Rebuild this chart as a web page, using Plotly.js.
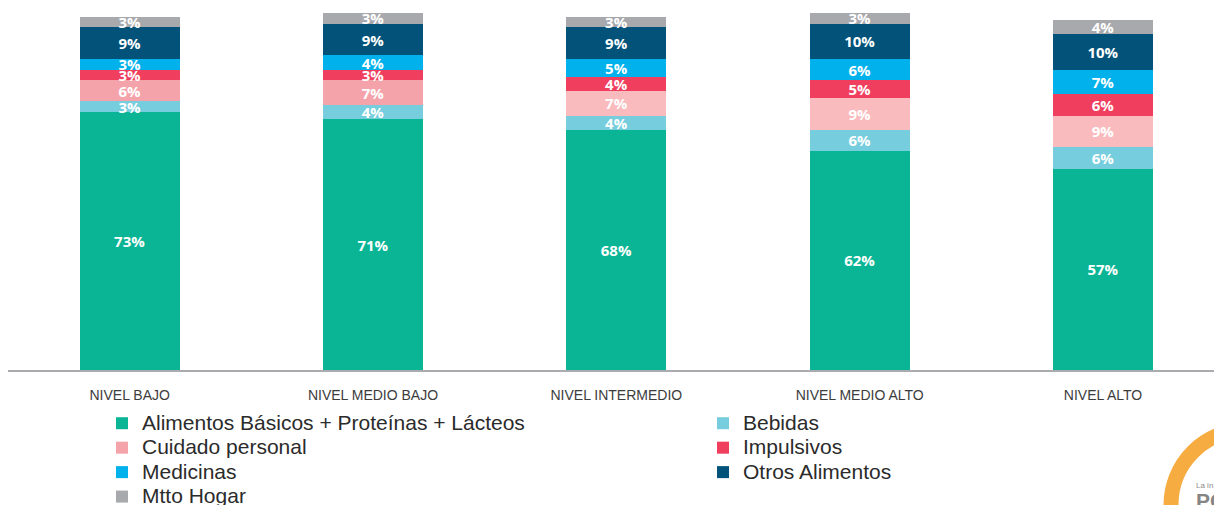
<!DOCTYPE html>
<html>
<head>
<meta charset="utf-8">
<script src="https://cdn.plot.ly/plotly-3.0.1.min.js"></script>
<style>
  html, body { margin: 0; padding: 0; background: #fff; }
  #chart { width: 1214px; height: 505px; }
</style>
</head>
<body>
<div id="chart"></div>
<script>
// Distribución del gasto por nivel socioeconómico (%)
const niveles = ['NIVEL BAJO', 'NIVEL MEDIO BAJO', 'NIVEL INTERMEDIO', 'NIVEL MEDIO ALTO', 'NIVEL ALTO'];

const alimentos = [73, 71, 68, 62, 57];
const bebidas = [3, 4, 4, 6, 6];
const cuidado = [6, 7, 7, 9, 9];
const impulsivos = [3, 3, 4, 5, 6];
const medicinas = [3, 4, 5, 6, 7];
const otros = [9, 9, 9, 10, 10];
const mtto = [3, 3, 3, 3, 4];

// Series en orden de apilado (de abajo hacia arriba)
const series = [
    { name: 'Alimentos Básicos + Proteínas + Lácteos', values: alimentos, color: '#0AB596' },
    { name: 'Bebidas', values: bebidas, color: '#76CDDD' },
    { name: 'Cuidado personal', values: cuidado, color: ['#F4A3AB', '#F4A3AB', '#F9BBBE', '#F9BBBE', '#F9BBBE'] },
    { name: 'Impulsivos', values: impulsivos, color: '#EF3E5E' },
    { name: 'Medicinas', values: medicinas, color: '#00B1EB' },
    { name: 'Otros Alimentos', values: otros, color: '#025279' },
    { name: 'Mtto Hogar', values: mtto, color: '#A8A9AD' }
];

const data = series.map(s => ({
    x: niveles,
    y: s.values,
    // el texto de la leyenda es más grande que el alto de fila
    name: '<span style="font-size:21px">' + s.name + '</span>',
    type: 'bar',
    marker: { color: s.color, line: { width: 0 } },
    texttemplate: '%{y}%',
    textposition: 'inside',
    insidetextanchor: 'middle',
    constraintext: 'none',
    textfont: { family: 'Open Sans', size: 15, color: '#ffffff', weight: 'bold' },
    hoverinfo: 'skip'
}));

// Coordenadas en pixeles -> papel
const px = v => (v - 8) / 1206;
const py = v => (370 - v) / 370;

const layout = {
    width: 1214,
    height: 505,
    margin: { l: 8, r: 0, t: 0, b: 135, autoexpand: false },
    paper_bgcolor: '#ffffff',
    plot_bgcolor: '#ffffff',
    barmode: 'stack',
    bargap: 0.59,
    showlegend: true,
    legend: {
        orientation: 'h',
        traceorder: 'normal',
        x: px(102),
        xanchor: 'left',
        y: py(406),
        yanchor: 'top',
        entrywidth: 556,
        entrywidthmode: 'pixels',
        font: { family: 'Liberation Sans', size: 16.5, color: '#2b2b2b' },
        bgcolor: 'rgba(0,0,0,0)'
    },
    xaxis: {
        range: [-0.5, 4.456],
        showgrid: false,
        zeroline: false,
        showline: true,
        linecolor: '#AAABAE',
        linewidth: 2,
        ticks: '',
        ticklabelstandoff: 11,
        tickfont: { family: 'Liberation Sans', size: 14, color: '#3c3c3c' },
        fixedrange: true
    },
    yaxis: {
        range: [0, 104.7],
        showgrid: false,
        zeroline: false,
        showline: false,
        showticklabels: false,
        ticks: '',
        fixedrange: true
    },
    // Logo parcial en la esquina inferior derecha
    shapes: [{
        type: 'circle',
        xref: 'paper', yref: 'paper',
        x0: px(1171), x1: px(1320),
        y0: py(580), y1: py(430),
        line: { color: '#F6AC40', width: 15 },
        fillcolor: 'rgba(0,0,0,0)'
    }],
    annotations: [
        {
            text: 'La in', xref: 'paper', yref: 'paper',
            x: px(1194), y: py(486), xanchor: 'left', yanchor: 'middle',
            showarrow: false,
            font: { family: 'Liberation Sans', size: 8, color: '#8a8a8a' }
        },
        {
            text: '<b>PO</b>', xref: 'paper', yref: 'paper',
            x: px(1194), y: py(500), xanchor: 'left', yanchor: 'middle',
            showarrow: false,
            font: { family: 'Liberation Sans', size: 21, color: '#858585' }
        }
    ]
};

Plotly.newPlot('chart', data, layout, { displayModeBar: false, staticPlot: true });
</script>
</body>
</html>
